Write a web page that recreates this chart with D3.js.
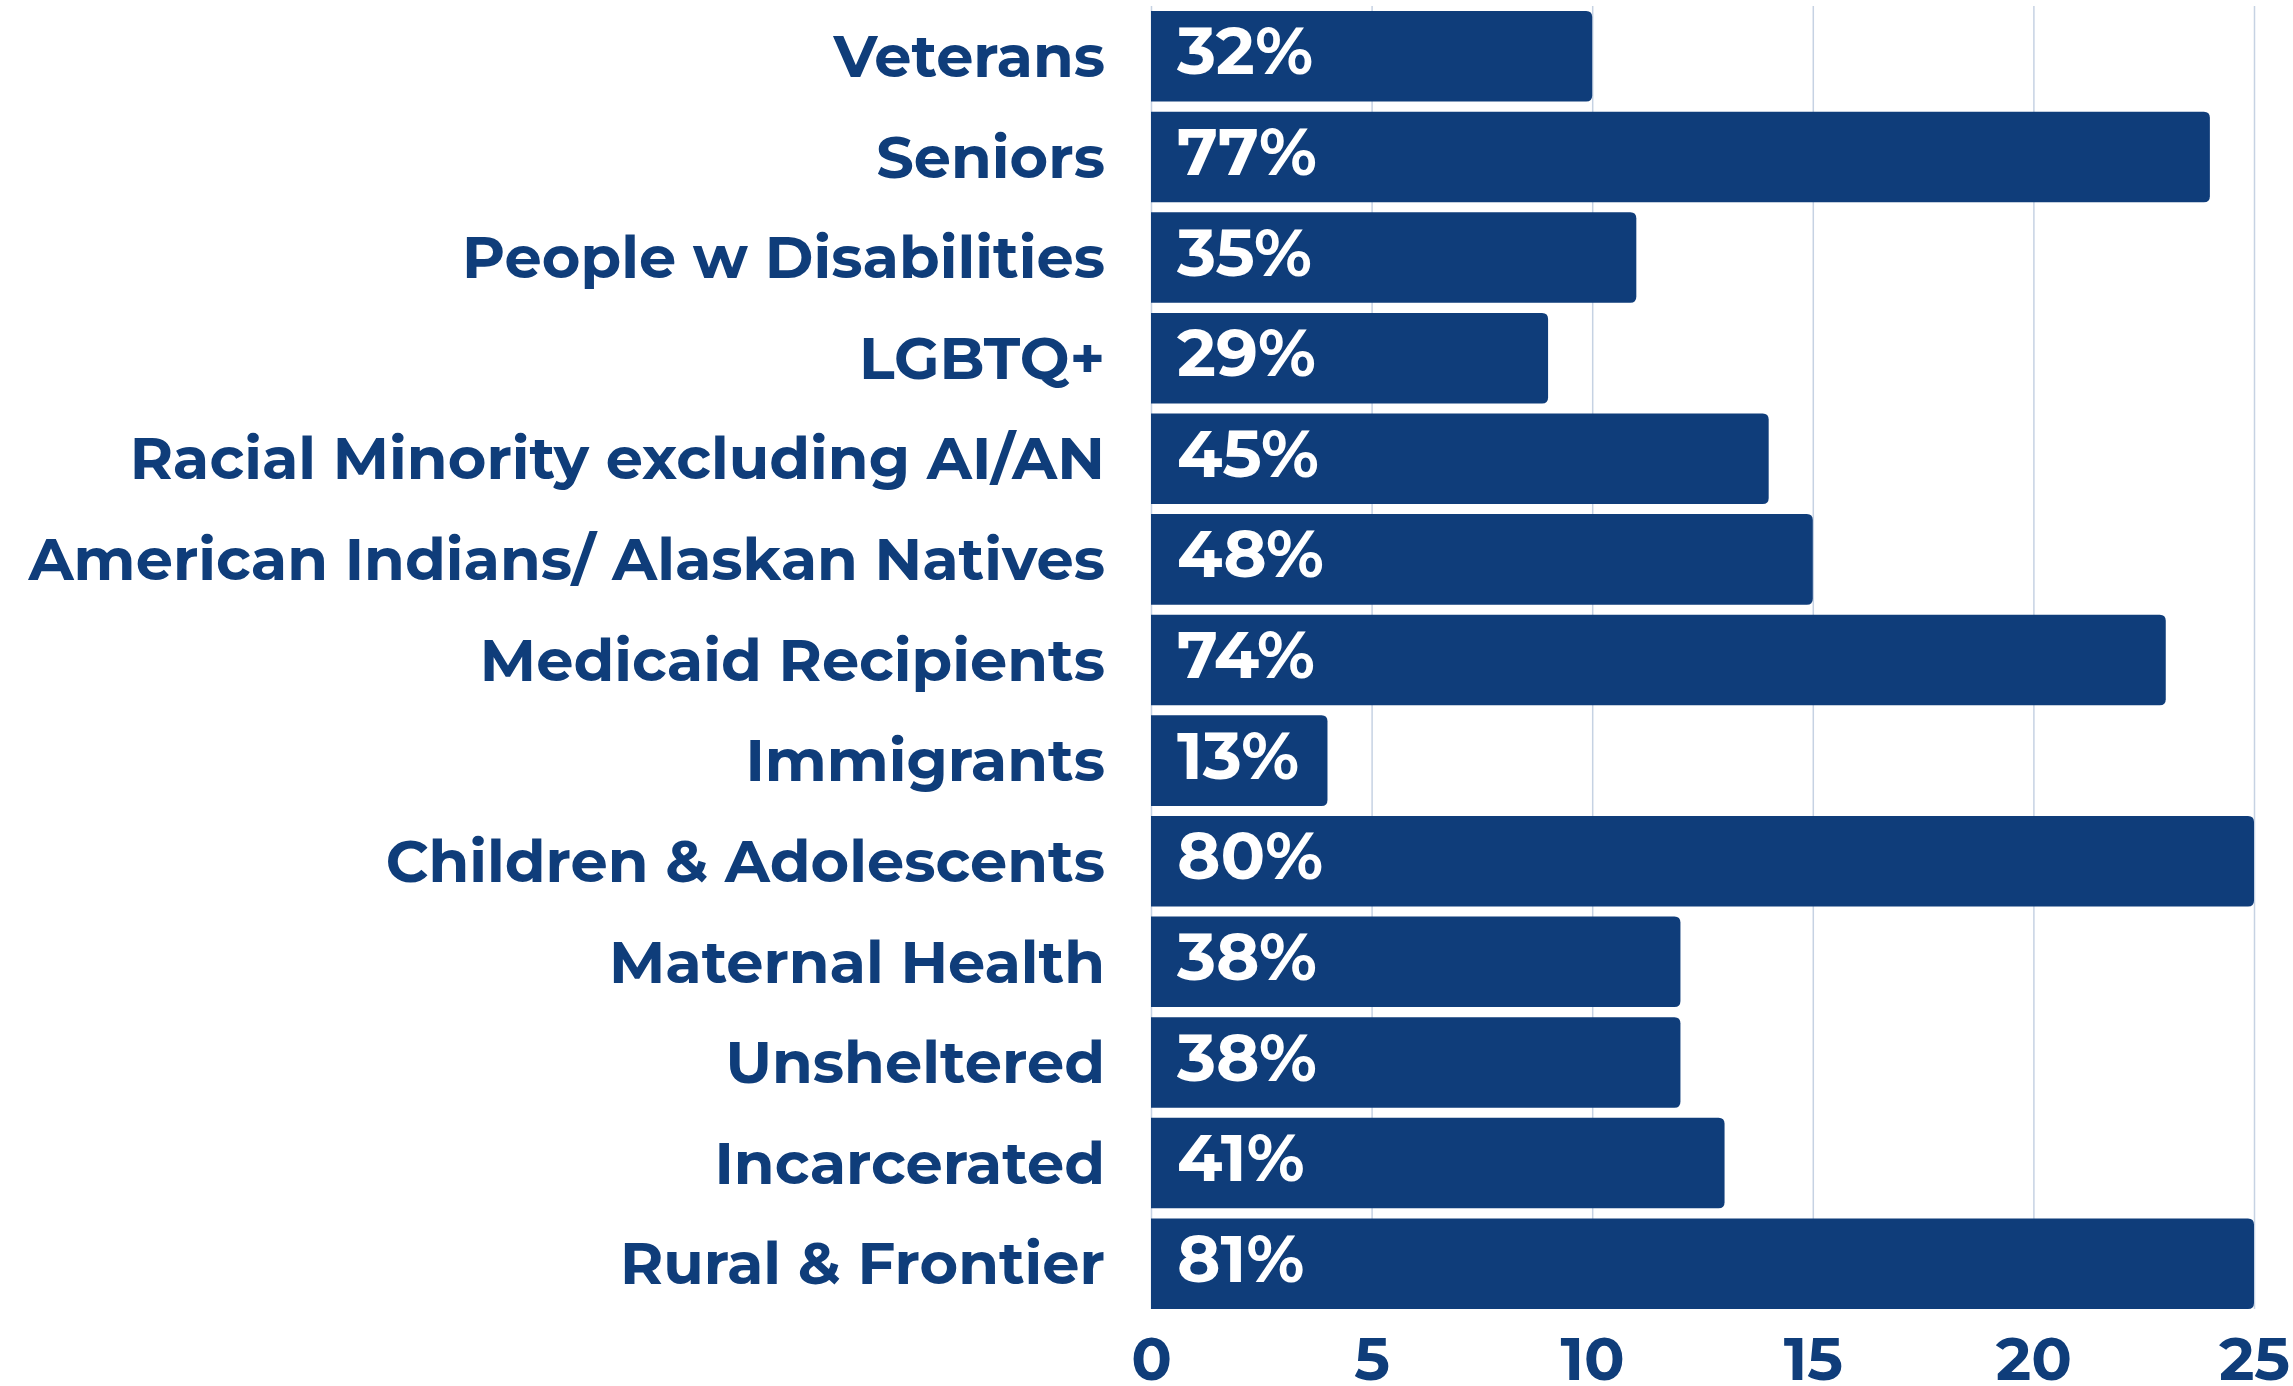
<!DOCTYPE html>
<html>
<head>
<meta charset="utf-8">
<script src="https://cdn.jsdelivr.net/npm/d3@7"></script>
<style>
  html, body { margin: 0; padding: 0; background: #ffffff; }
  svg { display: block; }
</style>
</head>
<body>
<svg id="chart" width="2293" height="1386"></svg>
<script>
const categories = [
  "Veterans",
  "Seniors",
  "People w Disabilities",
  "LGBTQ+",
  "Racial Minority excluding AI/AN",
  "American Indians/ Alaskan Natives",
  "Medicaid Recipients",
  "Immigrants",
  "Children & Adolescents",
  "Maternal Health",
  "Unsheltered",
  "Incarcerated",
  "Rural & Frontier"
];
const values = [10, 24, 11, 9, 14, 15, 23, 4, 25, 12, 12, 13, 25];
const percentLabels = ["32%", "77%", "35%", "29%", "45%", "48%", "74%", "13%", "80%", "38%", "38%", "41%", "81%"];
const tickValues = [0, 5, 10, 15, 20, 25];

const W = 2293, H = 1386;
const navy = "#0f3d7a";
const fontFam = "Montserrat, 'Open Sans', 'Noto Sans', sans-serif";

const svg = d3.select("#chart");

const x = d3.scaleLinear().domain([0, 25]).range([1151, 2254]);
const y = d3.scaleBand().domain(categories).range([6, 1314]).paddingInner(0.1).paddingOuter(0.05);

// gridlines
svg.append("g").selectAll("line").data(tickValues).join("line")
  .attr("x1", d => x(d) + 0.5).attr("x2", d => x(d) + 0.5)
  .attr("y1", y.range()[0]).attr("y2", y(categories[categories.length - 1]) + y.bandwidth())
  .attr("stroke", "#c6d2e3").attr("stroke-width", 1.5);

// bars with rounded right corners
const r = 6;
function barPath(d, i) {
  const x0 = x(0), x1 = x(d), y0 = y(categories[i]), h = y.bandwidth();
  const rr = Math.min(r, (x1 - x0) / 2);
  return `M${x0},${y0} H${x1 - rr} Q${x1},${y0} ${x1},${y0 + rr} V${y0 + h - rr} Q${x1},${y0 + h} ${x1 - rr},${y0 + h} H${x0} Z`;
}
svg.append("g").selectAll("path").data(values).join("path")
  .attr("d", barPath)
  .attr("fill", navy);

// value labels
svg.append("g").selectAll("text").data(percentLabels).join("text")
  .attr("x", x(0) + 26)
  .attr("y", (d, i) => y(categories[i]) + y.bandwidth() / 2 - 5)
  .attr("dy", "0.35em")
  .attr("fill", "#ffffff")
  .attr("font-family", fontFam)
  .attr("font-weight", 700)
  .attr("font-size", 66)
  .text(d => d);

// category labels (y axis)
const yAxis = d3.axisLeft(y).tickSize(0).tickPadding(0);
const gy = svg.append("g").attr("transform", `translate(1105,0)`).call(yAxis);
gy.select(".domain").remove();
gy.selectAll("text")
  .attr("fill", navy)
  .attr("font-family", fontFam)
  .attr("font-weight", 700)
  .attr("font-size", 59)
  .attr("dy", "0.35em");

// x axis
const xAxis = d3.axisBottom(x).tickValues(tickValues).tickSize(0).tickPadding(0);
const gx = svg.append("g").attr("transform", `translate(0,1337)`).call(xAxis);
gx.select(".domain").remove();
gx.selectAll("text")
  .attr("fill", navy)
  .attr("font-family", fontFam)
  .attr("font-weight", 700)
  .attr("font-size", 60)
  .attr("dy", "0.71em");
</script>
</body>
</html>
